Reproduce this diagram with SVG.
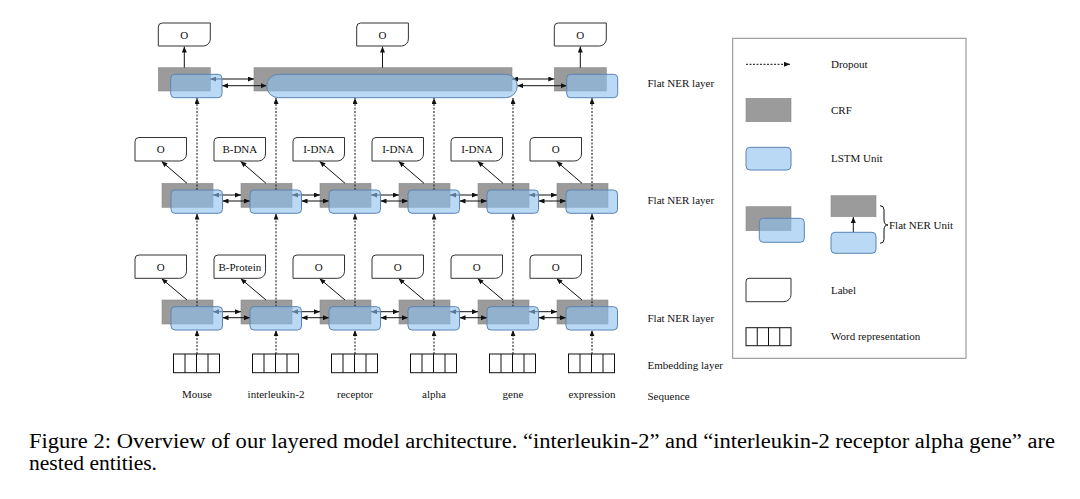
<svg xmlns="http://www.w3.org/2000/svg" width="1080" height="499" viewBox="0 0 1080 499">
<style>
text{font-family:"Liberation Serif","Times New Roman",serif;fill:#111;}
.t{font-size:11px;}
.tc{font-size:11px;text-anchor:middle;}
.cap{font-size:20.5px;fill:#000;}
.crf{fill:#9b9b9b;stroke:#8a8a8a;stroke-width:0.6;}
.lstm{fill:#8cbfee;fill-opacity:0.6;stroke:#5b84b3;stroke-width:1;}
.lbl{fill:#fff;stroke:#333;stroke-width:1;}
.wr{fill:#fff;stroke:#111;stroke-width:1;}
.ln{fill:none;stroke:#111;stroke-width:1;}
.arr{fill:none;stroke:#111;stroke-width:1;marker-end:url(#ah);}
.dbl{fill:none;stroke:#111;stroke-width:1;marker-start:url(#ah);marker-end:url(#ah);}
.dot{fill:none;stroke:#111;stroke-width:1;stroke-dasharray:2 1.5;marker-end:url(#ah);}
</style>
<defs>
<marker id="ah" markerUnits="userSpaceOnUse" markerWidth="6" markerHeight="5" refX="6" refY="2.5" orient="auto-start-reverse">
<path d="M0,0 L6,2.5 L0,5 z" fill="#111"/>
</marker>
</defs>
<rect width="1080" height="499" fill="#fff"/>

<!-- CRF nodes -->
<g id="crf-top-1"><rect class="crf" x="158.3" y="67.7" width="52" height="23.3"/></g>
<g id="crf-top-2"><rect class="crf" x="254" y="67.7" width="258" height="23.3"/></g>
<g id="crf-top-3"><rect class="crf" x="554.3" y="67.7" width="52" height="23.3"/></g>
<g id="crf-mid-1"><rect class="crf" x="162" y="183.3" width="51" height="24"/></g>
<g id="crf-mid-2"><rect class="crf" x="241" y="183.3" width="51" height="24"/></g>
<g id="crf-mid-3"><rect class="crf" x="320" y="183.3" width="51" height="24"/></g>
<g id="crf-mid-4"><rect class="crf" x="399" y="183.3" width="51" height="24"/></g>
<g id="crf-mid-5"><rect class="crf" x="478" y="183.3" width="51" height="24"/></g>
<g id="crf-mid-6"><rect class="crf" x="557" y="183.3" width="51" height="24"/></g>
<g id="crf-bot-1"><rect class="crf" x="162" y="300" width="51" height="24"/></g>
<g id="crf-bot-2"><rect class="crf" x="241" y="300" width="51" height="24"/></g>
<g id="crf-bot-3"><rect class="crf" x="320" y="300" width="51" height="24"/></g>
<g id="crf-bot-4"><rect class="crf" x="399" y="300" width="51" height="24"/></g>
<g id="crf-bot-5"><rect class="crf" x="478" y="300" width="51" height="24"/></g>
<g id="crf-bot-6"><rect class="crf" x="557" y="300" width="51" height="24"/></g>

<!-- connectors -->
<g id="connectors">
<line class="dbl" x1="210.3" y1="79" x2="254" y2="79"/>
<line class="dbl" x1="222" y1="85.7" x2="266.7" y2="85.7"/>
<line class="dbl" x1="512" y1="79" x2="554.3" y2="79"/>
<line class="dbl" x1="517.3" y1="85.7" x2="566.7" y2="85.7"/>
<line class="arr" x1="184.3" y1="67.7" x2="184.3" y2="46.5"/>
<line class="arr" x1="382.5" y1="67.7" x2="382.5" y2="46.5"/>
<line class="arr" x1="580.3" y1="67.7" x2="580.3" y2="46.5"/>
<line class="dbl" x1="213" y1="195" x2="241" y2="195"/>
<line class="dbl" x1="222.5" y1="201" x2="250" y2="201"/>
<line class="dbl" x1="292" y1="195" x2="320" y2="195"/>
<line class="dbl" x1="301.5" y1="201" x2="329" y2="201"/>
<line class="dbl" x1="371" y1="195" x2="399" y2="195"/>
<line class="dbl" x1="380.5" y1="201" x2="408" y2="201"/>
<line class="dbl" x1="450" y1="195" x2="478" y2="195"/>
<line class="dbl" x1="459.5" y1="201" x2="487" y2="201"/>
<line class="dbl" x1="529" y1="195" x2="557" y2="195"/>
<line class="dbl" x1="538.5" y1="201" x2="566" y2="201"/>
<line class="arr" x1="187" y1="183.3" x2="161.5" y2="161.3"/>
<line class="arr" x1="266" y1="183.3" x2="240.5" y2="161.3"/>
<line class="arr" x1="345" y1="183.3" x2="319.5" y2="161.3"/>
<line class="arr" x1="424" y1="183.3" x2="398.5" y2="161.3"/>
<line class="arr" x1="503" y1="183.3" x2="477.5" y2="161.3"/>
<line class="arr" x1="582" y1="183.3" x2="556.5" y2="161.3"/>
<line class="dbl" x1="213" y1="311.7" x2="241" y2="311.7"/>
<line class="dbl" x1="222.5" y1="317.7" x2="250" y2="317.7"/>
<line class="dbl" x1="292" y1="311.7" x2="320" y2="311.7"/>
<line class="dbl" x1="301.5" y1="317.7" x2="329" y2="317.7"/>
<line class="dbl" x1="371" y1="311.7" x2="399" y2="311.7"/>
<line class="dbl" x1="380.5" y1="317.7" x2="408" y2="317.7"/>
<line class="dbl" x1="450" y1="311.7" x2="478" y2="311.7"/>
<line class="dbl" x1="459.5" y1="317.7" x2="487" y2="317.7"/>
<line class="dbl" x1="529" y1="311.7" x2="557" y2="311.7"/>
<line class="dbl" x1="538.5" y1="317.7" x2="566" y2="317.7"/>
<line class="arr" x1="187" y1="300" x2="161.5" y2="278.5"/>
<line class="arr" x1="266" y1="300" x2="240.5" y2="278.5"/>
<line class="arr" x1="345" y1="300" x2="319.5" y2="278.5"/>
<line class="arr" x1="424" y1="300" x2="398.5" y2="278.5"/>
<line class="arr" x1="503" y1="300" x2="477.5" y2="278.5"/>
<line class="arr" x1="582" y1="300" x2="556.5" y2="278.5"/>
<line class="dot" x1="197" y1="354" x2="197" y2="330.3"/>
<line class="dot" x1="276" y1="354" x2="276" y2="330.3"/>
<line class="dot" x1="355" y1="354" x2="355" y2="330.3"/>
<line class="dot" x1="434" y1="354" x2="434" y2="330.3"/>
<line class="dot" x1="513" y1="354" x2="513" y2="330.3"/>
<line class="dot" x1="592" y1="354" x2="592" y2="330.3"/>
<line class="dot" x1="197" y1="306.7" x2="197" y2="213.6"/>
<line class="dot" x1="276" y1="306.7" x2="276" y2="213.6"/>
<line class="dot" x1="355" y1="306.7" x2="355" y2="213.6"/>
<line class="dot" x1="434" y1="306.7" x2="434" y2="213.6"/>
<line class="dot" x1="513" y1="306.7" x2="513" y2="213.6"/>
<line class="dot" x1="592" y1="306.7" x2="592" y2="213.6"/>
<line class="dot" x1="197" y1="190" x2="197" y2="98"/>
<line class="dot" x1="276" y1="190" x2="276" y2="98"/>
<line class="dot" x1="355" y1="190" x2="355" y2="98"/>
<line class="dot" x1="434" y1="190" x2="434" y2="98"/>
<line class="dot" x1="513" y1="190" x2="513" y2="98"/>
<line class="dot" x1="592" y1="190" x2="592" y2="98"/>
</g>

<!-- LSTM nodes -->
<g id="lstm-top-1"><rect class="lstm" x="170.7" y="74.3" width="51.3" height="23.4" rx="4"/></g>
<g id="lstm-top-2"><rect class="lstm" x="266.7" y="74.3" width="250.6" height="23.4" rx="11.7"/></g>
<g id="lstm-top-3"><rect class="lstm" x="566.7" y="74.3" width="51" height="23.4" rx="4"/></g>
<g id="lstm-mid-1"><rect class="lstm" x="171" y="190" width="51.5" height="23.3" rx="4"/></g>
<g id="lstm-mid-2"><rect class="lstm" x="250" y="190" width="51.5" height="23.3" rx="4"/></g>
<g id="lstm-mid-3"><rect class="lstm" x="329" y="190" width="51.5" height="23.3" rx="4"/></g>
<g id="lstm-mid-4"><rect class="lstm" x="408" y="190" width="51.5" height="23.3" rx="4"/></g>
<g id="lstm-mid-5"><rect class="lstm" x="487" y="190" width="51.5" height="23.3" rx="4"/></g>
<g id="lstm-mid-6"><rect class="lstm" x="566" y="190" width="51.5" height="23.3" rx="4"/></g>
<g id="lstm-bot-1"><rect class="lstm" x="171" y="306.7" width="51.5" height="23.3" rx="4"/></g>
<g id="lstm-bot-2"><rect class="lstm" x="250" y="306.7" width="51.5" height="23.3" rx="4"/></g>
<g id="lstm-bot-3"><rect class="lstm" x="329" y="306.7" width="51.5" height="23.3" rx="4"/></g>
<g id="lstm-bot-4"><rect class="lstm" x="408" y="306.7" width="51.5" height="23.3" rx="4"/></g>
<g id="lstm-bot-5"><rect class="lstm" x="487" y="306.7" width="51.5" height="23.3" rx="4"/></g>
<g id="lstm-bot-6"><rect class="lstm" x="566" y="306.7" width="51.5" height="23.3" rx="4"/></g>

<!-- labels top -->
<g id="label-top-1"><path class="lbl" d="M162.3,23 H210.3 V39 A7,7 0 0 1 203.3,46 H158.3 V27 A4,4 0 0 1 162.3,23 Z"/><text class="tc" x="184.3" y="38.5">O</text></g>
<g id="label-top-2"><path class="lbl" d="M360.7,23 H408.4 V39 A7,7 0 0 1 401.4,46 H356.7 V27 A4,4 0 0 1 360.7,23 Z"/><text class="tc" x="382.5" y="38.5">O</text></g>
<g id="label-top-3"><path class="lbl" d="M558.3,23 H606.3 V39 A7,7 0 0 1 599.3,46 H554.3 V27 A4,4 0 0 1 558.3,23 Z"/><text class="tc" x="580.3" y="38.5">O</text></g>

<!-- labels middle -->
<g id="label-mid-1"><path class="lbl" d="M139,137.5 H186.5 V154 A7,7 0 0 1 179.5,161 H135 V141.5 A4,4 0 0 1 139,137.5 Z"/><text class="tc" x="160.8" y="153">O</text></g>
<g id="label-mid-2"><path class="lbl" d="M218,137.5 H265.5 V154 A7,7 0 0 1 258.5,161 H214 V141.5 A4,4 0 0 1 218,137.5 Z"/><text class="tc" x="239.8" y="153">B-DNA</text></g>
<g id="label-mid-3"><path class="lbl" d="M297,137.5 H344.5 V154 A7,7 0 0 1 337.5,161 H293 V141.5 A4,4 0 0 1 297,137.5 Z"/><text class="tc" x="318.8" y="153">I-DNA</text></g>
<g id="label-mid-4"><path class="lbl" d="M376,137.5 H423.5 V154 A7,7 0 0 1 416.5,161 H372 V141.5 A4,4 0 0 1 376,137.5 Z"/><text class="tc" x="397.8" y="153">I-DNA</text></g>
<g id="label-mid-5"><path class="lbl" d="M455,137.5 H502.5 V154 A7,7 0 0 1 495.5,161 H451 V141.5 A4,4 0 0 1 455,137.5 Z"/><text class="tc" x="476.8" y="153">I-DNA</text></g>
<g id="label-mid-6"><path class="lbl" d="M534,137.5 H581.5 V154 A7,7 0 0 1 574.5,161 H530 V141.5 A4,4 0 0 1 534,137.5 Z"/><text class="tc" x="555.8" y="153">O</text></g>

<!-- labels bottom -->
<g id="label-bot-1"><path class="lbl" d="M139,255 H186.5 V271.3 A7,7 0 0 1 179.5,278.3 H135 V259 A4,4 0 0 1 139,255 Z"/><text class="tc" x="160.8" y="270.5">O</text></g>
<g id="label-bot-2"><path class="lbl" d="M218,255 H265.5 V271.3 A7,7 0 0 1 258.5,278.3 H214 V259 A4,4 0 0 1 218,255 Z"/><text class="tc" x="239.8" y="270.5">B-Protein</text></g>
<g id="label-bot-3"><path class="lbl" d="M297,255 H344.5 V271.3 A7,7 0 0 1 337.5,278.3 H293 V259 A4,4 0 0 1 297,255 Z"/><text class="tc" x="318.8" y="270.5">O</text></g>
<g id="label-bot-4"><path class="lbl" d="M376,255 H423.5 V271.3 A7,7 0 0 1 416.5,278.3 H372 V259 A4,4 0 0 1 376,255 Z"/><text class="tc" x="397.8" y="270.5">O</text></g>
<g id="label-bot-5"><path class="lbl" d="M455,255 H502.5 V271.3 A7,7 0 0 1 495.5,278.3 H451 V259 A4,4 0 0 1 455,255 Z"/><text class="tc" x="476.8" y="270.5">O</text></g>
<g id="label-bot-6"><path class="lbl" d="M534,255 H581.5 V271.3 A7,7 0 0 1 574.5,278.3 H530 V259 A4,4 0 0 1 534,255 Z"/><text class="tc" x="555.8" y="270.5">O</text></g>

<!-- word representations -->
<g id="word-1"><rect class="wr" x="173.5" y="354" width="46" height="18.7"/><path class="ln" d="M185,354 V372.7 M196.5,354 V372.7 M208,354 V372.7"/><text class="tc" x="197" y="397.5">Mouse</text></g>
<g id="word-2"><rect class="wr" x="252.5" y="354" width="46" height="18.7"/><path class="ln" d="M264,354 V372.7 M275.5,354 V372.7 M287,354 V372.7"/><text class="tc" x="276" y="397.5">interleukin-2</text></g>
<g id="word-3"><rect class="wr" x="331.5" y="354" width="46" height="18.7"/><path class="ln" d="M343,354 V372.7 M354.5,354 V372.7 M366,354 V372.7"/><text class="tc" x="355" y="397.5">receptor</text></g>
<g id="word-4"><rect class="wr" x="410.5" y="354" width="46" height="18.7"/><path class="ln" d="M422,354 V372.7 M433.5,354 V372.7 M445,354 V372.7"/><text class="tc" x="434" y="397.5">alpha</text></g>
<g id="word-5"><rect class="wr" x="489.5" y="354" width="46" height="18.7"/><path class="ln" d="M501,354 V372.7 M512.5,354 V372.7 M524,354 V372.7"/><text class="tc" x="513" y="397.5">gene</text></g>
<g id="word-6"><rect class="wr" x="568.5" y="354" width="46" height="18.7"/><path class="ln" d="M580,354 V372.7 M591.5,354 V372.7 M603,354 V372.7"/><text class="tc" x="592" y="397.5">expression</text></g>

<!-- layer names -->
<g id="layer-names">
<text class="t" x="647.5" y="86.8">Flat NER layer</text>
<text class="t" x="647.5" y="203.8">Flat NER layer</text>
<text class="t" x="647.5" y="321.8">Flat NER layer</text>
<text class="t" x="647.5" y="368.6">Embedding layer</text>
<text class="t" x="647.5" y="400">Sequence</text>
</g>

<!-- legend -->
<g id="legend">
<rect x="732.7" y="38.3" width="233.3" height="320" fill="none" stroke="#8a8a8a" stroke-width="1"/>
<line class="dot" x1="746" y1="64.3" x2="790" y2="64.3"/>
<text class="t" x="831" y="67.5">Dropout</text>
<rect class="crf" x="746" y="98.3" width="45" height="23.4"/>
<text class="t" x="831" y="113.5">CRF</text>
<rect class="lstm" x="746" y="147.3" width="45" height="22.7" rx="4"/>
<text class="t" x="831" y="162.3">LSTM Unit</text>
<rect class="crf" x="746" y="206.7" width="45" height="24"/>
<rect class="lstm" x="759.3" y="218.3" width="45" height="24" rx="4"/>
<rect class="crf" x="831" y="195.7" width="45" height="21"/>
<line class="arr" x1="853.3" y1="232.3" x2="853.3" y2="217"/>
<rect class="lstm" x="831" y="232.3" width="45" height="21" rx="4"/>
<path class="ln" d="M880,205.7 Q884,205.7 884,209.7 V220 Q884,225 888,225 Q884,225 884,230 V239.3 Q884,243.3 880,243.3" stroke-width="0.8"/>
<text class="t" x="889" y="228.7">Flat NER Unit</text>
<path class="lbl" d="M749,278.3 H791 V294.7 A7,7 0 0 1 784,301.7 H746 V281.3 A3,3 0 0 1 749,278.3 Z"/>
<text class="t" x="831" y="293.7">Label</text>
<rect class="wr" x="746" y="327.7" width="45" height="18"/>
<path class="ln" d="M757.25,327.7 V345.7 M768.5,327.7 V345.7 M779.75,327.7 V345.7"/>
<text class="t" x="831" y="340.3">Word representation</text>
</g>

<!-- caption -->
<g id="caption">
<text class="cap" x="29" y="447.5" textLength="1026" lengthAdjust="spacingAndGlyphs">Figure 2: Overview of our layered model architecture. “interleukin-2” and “interleukin-2 receptor alpha gene” are</text>
<text class="cap" x="29" y="469.5" textLength="128" lengthAdjust="spacingAndGlyphs">nested entities.</text>
</g>
</svg>
